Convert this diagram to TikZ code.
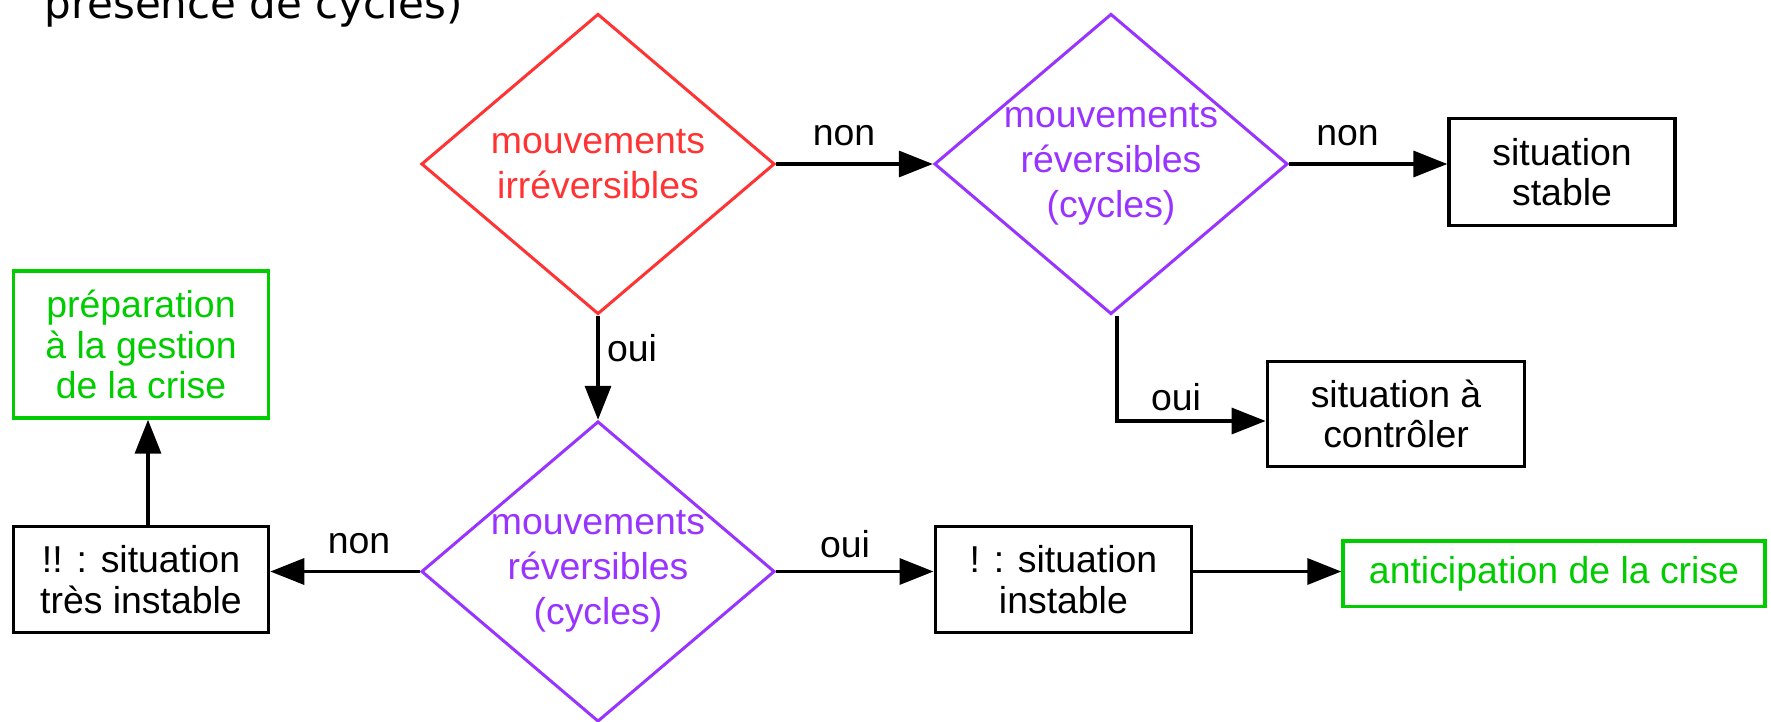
\documentclass[tikz,border=0pt]{standalone}
\usepackage{fontspec}
\setmainfont{Liberation Sans}
\newfontfamily\topfont{DejaVu Sans}
\usetikzlibrary{shapes.geometric}
\usetikzlibrary{arrows.meta}

\definecolor{rouge}{HTML}{FF3333}
\definecolor{violet}{HTML}{9933FF}
\definecolor{vert}{HTML}{00CC00}

\begin{document}
\begin{tikzpicture}[x=0.5pt,y=-0.5pt,
  every node/.style={font=\fontsize{18.7}{20.3}\selectfont},
  boite/.style={draw,line width=1.7pt,align=center,inner sep=0pt},
  losange/.style={diamond,draw,line width=1.5pt,inner sep=0pt,
    minimum width=176.7pt,minimum height=150.2pt},
  texte losange/.style={align=center,font=\fontsize{18.7}{22.6}\selectfont},
  fleche/.style={line width=1.7pt,-{Triangle[length=17pt,width=13pt]}}]
\useasboundingbox (0,0) rectangle (1771,722);
\node[anchor=base west,inner sep=0pt,font=\topfont\fontsize{21}{24}\selectfont] (titre) at (44,19) {présence de cycles)};
% losanges
\node[losange,draw=rouge] (irrev) at (598,164) {};
\node[texte losange,text=rouge] (irrevtxt) at (irrev) {mouvements\\irréversibles};
\node[losange,draw=violet] (rev1) at (1111,164) {};
\node[texte losange,text=violet] (rev1txt) at (rev1) {mouvements\\réversibles\\(cycles)};
\node[losange,draw=violet] (rev2) at (598,571.5) {};
\node[texte losange,text=violet] (rev2txt) at (rev2) {mouvements\\réversibles\\(cycles)};
% boites
\node[boite,minimum width=113pt,minimum height=53.5pt] (stable) at (1562,172) {situation\\stable};
\node[boite,minimum width=128.7pt,minimum height=52.5pt] (controle) at (1396,414) {situation à\\contrôler};
\node[boite,minimum width=127.6pt,minimum height=53pt] (tresinst) at (141,579.4) {!! : situation\\très instable};
\node[boite,draw=vert,text=vert,minimum width=127.6pt,minimum height=73.5pt] (prep) at (141,344.5) {préparation\\à la gestion\\de la crise};
\node[boite,minimum width=128.2pt,minimum height=53pt] (instable) at (1063.4,579.4) {! : situation\\instable};
\node[boite,draw=vert,text=vert,minimum width=211pt,minimum height=32.7pt] (antic) at (1554,573.8) {anticipation de la crise};
% fleches
\draw[fleche] (irrev.east) -- (rev1.west);
\node (non1) at (844,135.5) {non};
\draw[fleche] (rev1.east) -- (rev1.east -| stable.west);
\node (non2) at (1347.5,135.5) {non};
\draw[fleche] (irrev.south) -- (rev2.north);
\node (oui1) at (632,348) {oui};
\coordinate (coude) at (1117,421);
\draw[fleche] ([xshift=3pt]rev1.south) -- (coude) -- (coude -| controle.west);
\node (oui2) at (1176,397.6) {oui};
\draw[fleche] (rev2.west) -- (rev2.west -| tresinst.east);
\node (non3) at (359,544) {non};
\draw[fleche] (rev2.east) -- (rev2.east -| instable.west);
\node (oui3) at (845,544) {oui};
\draw[fleche] (rev2.east -| instable.east) -- (rev2.east -| antic.west);
\draw[fleche] ([xshift=3.5pt]tresinst.north) -- ([xshift=3.5pt]prep.south);
\end{tikzpicture}
\end{document}
